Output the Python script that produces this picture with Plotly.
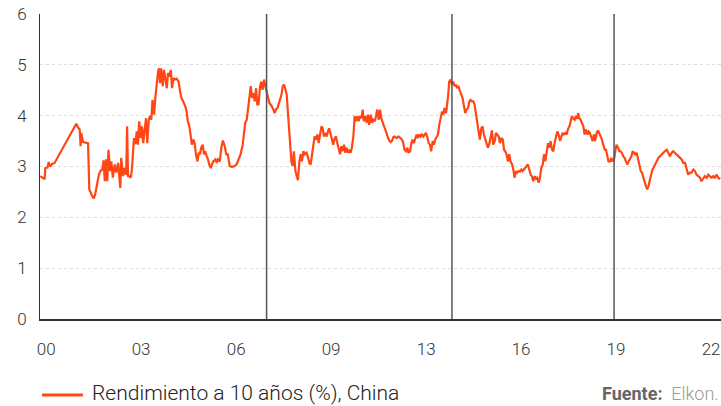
import plotly.graph_objects as go

# ---- data (decimal years, yield %) ----
years = [
    2000.68, 2000.76, 2000.82, 2000.84, 2000.91, 2000.95, 2000.99, 2001.06, 2001.14, 2001.84,
    2001.89, 2001.95, 2001.98, 2002.00, 2002.06, 2002.22, 2002.26, 2002.33, 2002.40, 2002.45,
    2002.52, 2002.57, 2002.63, 2002.68, 2002.72, 2002.76, 2002.80, 2002.84, 2002.88, 2002.93,
    2002.97, 2003.02, 2003.08, 2003.13, 2003.19, 2003.22, 2003.26, 2003.29, 2003.35, 2003.40,
    2003.45, 2003.48, 2003.51,
    2003.54, 2003.60, 2003.64, 2003.67, 2003.70, 2003.75, 2003.79, 2003.83, 2003.87, 2003.92,
    2003.96, 2004.00, 2004.05, 2004.09, 2004.13, 2004.18, 2004.22, 2004.26, 2004.30, 2004.35,
    2004.39, 2004.43, 2004.48, 2004.51, 2004.54, 2004.58, 2004.63, 2004.67, 2004.71, 2004.76,
    2004.80, 2004.84, 2004.89, 2004.93, 2004.97, 2005.01, 2005.08, 2005.14, 2005.19, 2005.23,
    2005.29, 2005.36, 2005.40, 2005.44, 2005.49, 2005.53, 2005.57, 2005.62, 2005.66, 2005.70,
    2005.75, 2005.79, 2005.83, 2005.87, 2005.92, 2005.96, 2006.00, 2006.05, 2006.09, 2006.13,
    2006.18, 2006.22, 2006.26, 2006.33, 2006.37, 2006.41, 2006.47,
    2006.52, 2006.57, 2006.63, 2006.68, 2006.73, 2006.79, 2006.86, 2006.95, 2007.01, 2007.08,
    2007.14, 2007.21, 2007.25, 2007.29, 2007.34, 2007.38, 2007.42, 2007.47, 2007.51, 2007.55,
    2007.60, 2007.64, 2007.68, 2007.72, 2007.77, 2007.81, 2007.85, 2007.90, 2007.94, 2007.98,
    2008.03, 2008.07, 2008.11, 2008.15, 2008.20, 2008.24, 2008.28, 2008.33, 2008.37, 2008.41,
    2008.46, 2008.50, 2008.54, 2008.58, 2008.63, 2008.67, 2008.71, 2008.75, 2008.78, 2008.82,
    2008.86, 2008.91, 2008.95, 2008.99, 2009.04, 2009.08, 2009.12, 2009.17, 2009.21, 2009.27,
    2009.32, 2009.36, 2009.40, 2009.44, 2009.49, 2009.53, 2009.57, 2009.62, 2009.66, 2009.70,
    2009.75, 2009.79, 2009.83, 2009.87, 2009.92, 2009.96, 2010.00, 2010.05, 2010.09, 2010.13,
    2010.18, 2010.22, 2010.26, 2010.30, 2010.35, 2010.39, 2010.43, 2010.48, 2010.52, 2010.56,
    2010.61, 2010.65, 2010.69, 2010.73, 2010.78, 2010.82, 2010.86, 2010.91, 2010.95, 2010.99,
    2011.04, 2011.08, 2011.12, 2011.16, 2011.21, 2011.25, 2011.29, 2011.34, 2011.38, 2011.42,
    2011.47, 2011.51, 2011.55, 2011.60, 2011.64, 2011.68, 2011.72, 2011.77, 2011.81, 2011.85,
    2011.90, 2011.94, 2011.98, 2012.03, 2012.07, 2012.11, 2012.18, 2012.24,
    2012.28, 2012.35, 2012.39, 2012.43, 2012.48, 2012.52, 2012.56, 2012.61, 2012.65, 2012.69,
    2012.73, 2012.78, 2012.82, 2012.86, 2012.91, 2012.95, 2012.99, 2013.04, 2013.08, 2013.12,
    2013.16, 2013.21, 2013.25, 2013.29, 2013.34, 2013.38, 2013.42, 2013.47, 2013.51, 2013.55,
    2013.59, 2013.64, 2013.68, 2013.72, 2013.77, 2013.81, 2013.84, 2013.87, 2013.92, 2013.96,
    2014.00, 2014.05, 2014.09, 2014.13, 2014.17, 2014.22, 2014.26, 2014.30, 2014.35, 2014.39,
    2014.43, 2014.48, 2014.52, 2014.56, 2014.60, 2014.65, 2014.69, 2014.73, 2014.78, 2014.82,
    2014.86, 2014.91, 2014.95, 2014.99, 2015.04, 2015.08, 2015.12,
    2015.17, 2015.21, 2015.25, 2015.29, 2015.34, 2015.38, 2015.42, 2015.47, 2015.51, 2015.55,
    2015.60, 2015.64, 2015.68, 2015.72, 2015.77, 2015.81, 2015.85, 2015.90, 2015.94, 2015.98,
    2016.03, 2016.07, 2016.11, 2016.15, 2016.20, 2016.24, 2016.28, 2016.33, 2016.37, 2016.41,
    2016.46, 2016.50, 2016.54, 2016.58, 2016.63, 2016.67, 2016.71, 2016.76, 2016.80, 2016.84,
    2016.89, 2016.93, 2016.97, 2017.02, 2017.06, 2017.10, 2017.14, 2017.19, 2017.23, 2017.27,
    2017.32, 2017.36, 2017.40, 2017.45, 2017.49, 2017.53, 2017.57, 2017.62, 2017.66, 2017.70,
    2017.75, 2017.79, 2017.83, 2017.87, 2017.92, 2017.96, 2018.00,
    2018.03, 2018.07, 2018.11, 2018.15, 2018.20, 2018.24, 2018.28, 2018.33, 2018.37, 2018.41,
    2018.46, 2018.50, 2018.54, 2018.58, 2018.63, 2018.67, 2018.71, 2018.76, 2018.80, 2018.84,
    2018.89, 2018.93, 2018.97, 2019.01, 2019.06, 2019.10, 2019.14, 2019.19, 2019.23, 2019.27,
    2019.32, 2019.36, 2019.40, 2019.44, 2019.49, 2019.53, 2019.57, 2019.62, 2019.66, 2019.70,
    2019.75, 2019.79, 2019.83, 2019.87, 2019.92, 2019.96, 2020.00, 2020.05, 2020.09, 2020.13,
    2020.18, 2020.22, 2020.26, 2020.30, 2020.35, 2020.39, 2020.43,
    2020.46, 2020.51, 2020.56, 2020.62, 2020.67, 2020.72, 2020.78, 2020.83, 2020.89, 2020.94,
    2020.99, 2021.05, 2021.10, 2021.15, 2021.21, 2021.26, 2021.32, 2021.37, 2021.42, 2021.48,
    2021.53, 2021.58, 2021.64, 2021.69, 2021.75, 2021.80, 2021.85, 2021.91, 2021.96, 2022.01,
    2022.07, 2022.12, 2022.18, 2022.23, 2022.28, 2022.34, 2022.39, 2022.44, 2022.50, 2022.55,
    2022.61,
]

yields = [
    2.81, 2.78, 2.75, 2.97, 2.98, 3.09, 3.00, 3.05, 3.07, 3.84,
    3.77, 3.73, 3.40, 3.66, 3.48, 3.46, 2.55, 2.45, 2.37, 2.45,
    2.71, 2.84, 2.92, 2.94, 3.12, 2.71, 3.14, 2.71, 3.33, 2.91,
    3.10, 2.78, 3.04, 2.88, 3.07, 2.78, 2.58, 3.17, 2.81, 2.97,
    2.84, 3.79, 2.81,
    2.81, 2.78, 2.97, 3.43, 3.56, 3.44, 3.69, 3.43, 3.89, 3.56,
    3.79, 3.46, 3.82, 3.95, 3.46, 3.92, 3.99, 3.92, 4.31, 4.02,
    4.35, 4.61, 4.87, 4.93, 4.64, 4.93, 4.58, 4.90, 4.74, 4.54,
    4.84, 4.77, 4.90, 4.54, 4.74, 4.71, 4.73, 4.67, 4.48, 4.35,
    4.28, 4.18, 4.08, 3.89, 3.79, 3.63, 3.43, 3.53, 3.46, 3.24,
    3.10, 3.27, 3.24, 3.37, 3.43, 3.24, 3.30, 3.20, 3.14, 3.04,
    2.97, 3.04, 3.10, 3.14, 3.07, 3.14, 3.10,
    3.37, 3.51, 3.40, 3.24, 3.24, 3.01, 2.99, 3.01, 3.04, 3.14,
    3.24, 3.43, 3.63, 3.86, 3.92, 4.15, 4.35, 4.58, 4.35, 4.44,
    4.28, 4.54, 4.22, 4.22, 4.58, 4.67, 4.51, 4.71, 4.58, 4.48,
    4.35, 4.25, 4.22, 4.18, 4.12, 4.05, 4.12, 4.15, 4.22, 4.28,
    4.41, 4.58, 4.61, 4.54, 4.41, 4.05, 3.69, 3.37, 3.10, 3.01,
    3.30, 2.91, 2.84, 2.73, 3.10, 3.24, 3.10, 3.30, 3.24, 3.27,
    3.17, 3.07, 3.04, 3.24, 3.40, 3.59, 3.53, 3.63, 3.46, 3.59,
    3.79, 3.76, 3.59, 3.66, 3.59, 3.69, 3.75, 3.63, 3.53, 3.43,
    3.56, 3.59, 3.46, 3.37, 3.24, 3.40, 3.30, 3.43, 3.27, 3.37,
    3.27, 3.33, 3.27, 3.37, 3.59, 3.99, 3.89, 3.99, 3.89, 3.99,
    3.95, 4.12, 3.89, 3.99, 3.86, 4.02, 3.82, 4.02, 3.86, 3.92,
    3.89, 3.99, 4.12, 3.92, 4.12, 3.95, 3.86, 3.79, 3.73, 3.63,
    3.56, 3.51, 3.48, 3.51, 3.58, 3.59, 3.56, 3.59,
    3.56, 3.53, 3.46, 3.33, 3.30, 3.37, 3.27, 3.30, 3.46, 3.53,
    3.46, 3.59, 3.63, 3.56, 3.63, 3.59, 3.63, 3.59, 3.64, 3.66,
    3.59, 3.46, 3.43, 3.30, 3.50, 3.43, 3.53, 3.59, 3.63, 3.82,
    3.95, 4.08, 4.02, 4.15, 4.05, 4.22, 4.41, 4.67, 4.71, 4.61,
    4.67, 4.58, 4.61, 4.54, 4.58, 4.48, 4.41, 4.35, 4.18, 4.05,
    4.12, 4.15, 4.28, 4.31, 4.28, 4.28, 4.22, 4.02, 3.89, 3.69,
    3.53, 3.76, 3.79, 3.63, 3.53, 3.43, 3.37,
    3.46, 3.63, 3.71, 3.43, 3.50, 3.66, 3.63, 3.59, 3.46, 3.56,
    3.53, 3.33, 3.30, 3.24, 3.10, 3.24, 3.10, 3.04, 2.94, 2.78,
    2.91, 2.88, 2.91, 2.90, 2.94, 2.91, 2.94, 2.97, 3.01, 3.04,
    2.91, 2.84, 2.81, 2.71, 2.81, 2.76, 2.78, 2.68, 2.78, 2.97,
    3.04, 3.24, 3.10, 3.37, 3.46, 3.37, 3.50, 3.33, 3.30, 3.46,
    3.56, 3.69, 3.63, 3.50, 3.59, 3.66, 3.63, 3.66, 3.63, 3.73,
    3.79, 3.92, 3.99, 3.95, 3.92, 3.99, 3.94,
    4.05, 3.95, 3.92, 3.86, 3.79, 3.63, 3.73, 3.63, 3.69, 3.66,
    3.56, 3.50, 3.63, 3.50, 3.66, 3.71, 3.66, 3.59, 3.53, 3.43,
    3.33, 3.33, 3.24, 3.10, 3.10, 3.17, 3.10, 3.14, 3.30, 3.43,
    3.37, 3.30, 3.30, 3.27, 3.20, 3.17, 3.10, 3.04, 3.10, 3.14,
    3.20, 3.30, 3.27, 3.24, 3.27, 3.17, 3.04, 2.91, 2.88, 2.78,
    2.68, 2.61, 2.55, 2.61, 2.75, 2.88, 2.94,
    2.97, 3.04, 3.10, 3.17, 3.20, 3.24, 3.27, 3.30, 3.33, 3.27,
    3.20, 3.27, 3.30, 3.27, 3.24, 3.20, 3.17, 3.14, 3.07, 3.07,
    2.97, 2.84, 2.88, 2.88, 2.94, 2.91, 2.84, 2.81, 2.78, 2.71,
    2.78, 2.81, 2.78, 2.84, 2.81, 2.78, 2.81, 2.78, 2.84, 2.78,
    2.75,
]

x_tick_positions = [2000.87, 2003.93, 2007.00, 2010.06, 2013.13, 2016.19, 2019.25, 2022.32]
x_tick_labels = ["00", "03", "06", "09", "13", "16", "19", "22"]
y_tick_values = [0, 1, 2, 3, 4, 5, 6]
event_years = [2007.98, 2013.96, 2019.19]

series_name = "Rendimiento a 10 años (%), China"
source_label = "Fuente:"
source_name = "Elkon."

LINE_COLOR = "#FF4614"
FONT = "Roboto, 'Liberation Sans', Arial, sans-serif"

fig = go.Figure()
fig.add_trace(go.Scatter(
    x=years, y=yields, mode="lines", name=series_name,
    line=dict(color=LINE_COLOR, width=2.2), showlegend=False, hoverinfo="skip",
))

for yr in event_years:
    fig.add_shape(type="line", xref="x", yref="y", x0=yr, x1=yr, y0=0, y1=6,
                  line=dict(color="#555555", width=1.5), layer="above")

# legend sample + text (paper y: plot area spans pixels 14..319)
fig.add_shape(type="line", xref="paper", yref="paper",
              x0=0.003, x1=0.063, y0=-0.2492, y1=-0.2492,
              line=dict(color=LINE_COLOR, width=3))
fig.add_annotation(xref="paper", yref="paper", x=0.0735, y=-0.242,
                   xanchor="left", yanchor="middle", showarrow=False,
                   text=series_name, font=dict(family=FONT, size=21, color="#222222", weight=300))
fig.add_annotation(xref="paper", yref="paper", x=1.0, y=-0.245,
                   xanchor="right", yanchor="middle", showarrow=False,
                   text=f"<b>{source_label}</b>  <span style='color:#9a9a9a'>{source_name}</span>",
                   font=dict(family=FONT, size=18, color="#666666"))

fig.update_layout(
    width=721, height=406,
    margin=dict(l=40, r=0, t=14, b=87),
    plot_bgcolor="white", paper_bgcolor="white",
    font=dict(family=FONT, size=17, color="#333333", weight=300),
    showlegend=False,
)
fig.update_xaxes(
    range=[2000.67, 2022.64], showgrid=False, zeroline=False,
    showline=True, linecolor="#333333", linewidth=1.5,
    tickmode="array", tickvals=x_tick_positions, ticktext=x_tick_labels,
    ticks="", ticklabelstandoff=14,
    tickfont=dict(family=FONT, size=17, color="#333333", weight=300),
)
fig.update_yaxes(
    range=[0, 6], showgrid=True, gridcolor="#dcdcdc", griddash="3px,3px", gridwidth=1,
    zeroline=False, showline=True, linecolor="#333333", linewidth=1,
    tickmode="array", tickvals=y_tick_values, ticks="", ticklabelstandoff=9,
    tickfont=dict(family=FONT, size=17, color="#333333", weight=300),
)

fig.write_html("out.html")
